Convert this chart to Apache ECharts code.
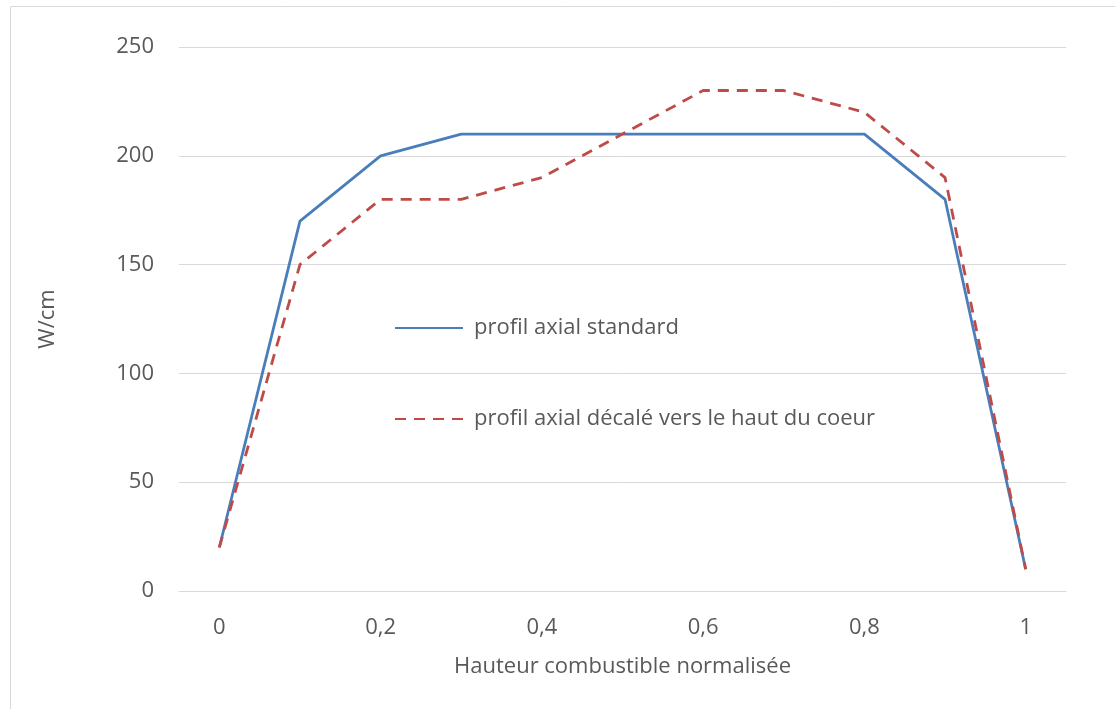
<!DOCTYPE html>
<html><head><meta charset="utf-8">
<script src="https://cdn.jsdelivr.net/npm/echarts@6/dist/echarts.min.js"></script>
<style>html,body{margin:0;padding:0;background:#fff;}#c{width:1115px;height:709px;}</style>
</head><body><div id="c"></div>
<script>
var categories = ['0','0,1','0,2','0,3','0,4','0,5','0,6','0,7','0,8','0,9','1'];
var standard = [20,170,200,210,210,210,210,210,210,180,10];
var decale = [20,150,180,180,190,210,230,230,220,190,10];
var seriesNames = ['profil axial standard','profil axial décalé vers le haut du coeur'];
var yTitle = 'W/cm';
var xTitle = 'Hauteur combustible normalisée';

var font = 'Open Sans, Noto Sans, sans-serif';
var fs = 22;
var chart = echarts.init(document.getElementById('c'));
chart.setOption({
  animation:false,
  backgroundColor:'#fff',
  graphic:[{type:'rect',shape:{x:10.5,y:6.5,width:1200,height:800},style:{fill:'none',stroke:'#d9d9d9',lineWidth:1},silent:true}],
  grid:{left:179,right:49,top:47,bottom:118},
  legend:{
    orient:'vertical',left:389,top:312,itemWidth:68,itemHeight:14,itemGap:69,
    itemStyle:{opacity:0},
    textStyle:{color:'#595959',fontSize:fs,fontFamily:font,padding:[0,0,0,6]},
    data:seriesNames
  },
  xAxis:{
    type:'category',data:categories,boundaryGap:true,
    name:xTitle,nameLocation:'middle',nameGap:65,
    nameTextStyle:{color:'#595959',fontSize:fs,fontFamily:font},
    axisLine:{show:true,lineStyle:{color:'#d9d9d9',width:1}},
    axisTick:{show:false},
    axisLabel:{interval:1,color:'#595959',fontSize:fs,fontFamily:font,margin:26}
  },
  yAxis:{
    type:'value',min:0,max:250,interval:50,
    name:yTitle,nameLocation:'middle',nameGap:120,nameRotate:90,
    nameTextStyle:{color:'#595959',fontSize:fs,fontFamily:font},
    axisLine:{show:false},axisTick:{show:false},
    axisLabel:{color:'#595959',fontSize:fs,fontFamily:font,margin:25},
    splitLine:{lineStyle:{color:'#d9d9d9',width:1}}
  },
  series:[
    {name:seriesNames[0],type:'line',data:standard,symbol:'none',
     lineStyle:{color:'#4a7ebb',width:2.8},itemStyle:{color:'#4a7ebb'}},
    {name:seriesNames[1],type:'line',data:decale,symbol:'none',
     lineStyle:{color:'#be4b48',width:2.8,type:[11,8]},itemStyle:{color:'#be4b48'}}
  ]
});
</script></body></html>
